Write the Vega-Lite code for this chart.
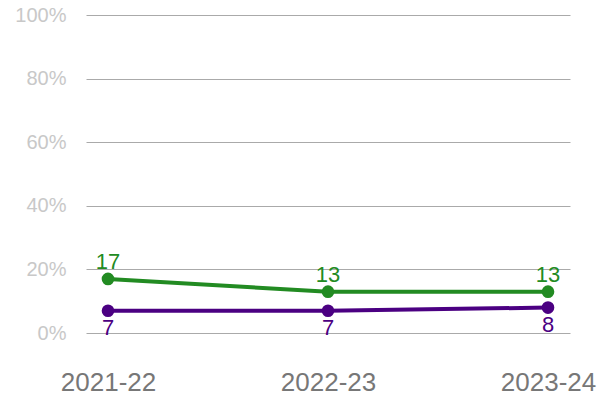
{
  "$schema": "https://vega.github.io/schema/vega-lite/v6.json",
  "autosize": "none",
  "width": 484,
  "height": 318,
  "padding": {"left": 86, "top": 15, "right": 44, "bottom": 67},
  "background": "white",
  "config": {"view": {"stroke": null}, "font": "Liberation Sans"},
  "data": {"values": [
    {"year": "2021-22", "series": "A", "value": 17},
    {"year": "2022-23", "series": "A", "value": 13},
    {"year": "2023-24", "series": "A", "value": 13},
    {"year": "2021-22", "series": "B", "value": 7},
    {"year": "2022-23", "series": "B", "value": 7},
    {"year": "2023-24", "series": "B", "value": 8}
  ]},
  "encoding": {
    "x": {"field": "year", "type": "ordinal", "scale": {"type": "point", "padding": 0.1},
      "axis": {"title": null, "domain": false, "ticks": false, "labelAngle": 0, "labelFontSize": 26, "labelColor": "#777777", "labelPadding": 36, "grid": false}},
    "y": {"field": "value", "type": "quantitative", "scale": {"domain": [0, 100]},
      "axis": {"title": null, "domain": false, "ticks": false, "values": [0, 20, 40, 60, 80, 100], "labelExpr": "datum.value + '%'", "labelFontSize": 20, "labelColor": "#c8c8c8", "labelPadding": 20, "gridColor": "#aaaaaa", "gridWidth": 1}},
    "color": {"field": "series", "type": "nominal", "scale": {"domain": ["A", "B"], "range": ["#228b22", "#4b0082"]}, "legend": null}
  },
  "layer": [
    {"mark": {"type": "line", "strokeWidth": 4}},
    {"mark": {"type": "point", "filled": true, "size": 160, "opacity": 1}},
    {"transform": [{"filter": "datum.series == 'A'"}], "mark": {"type": "text", "fontSize": 22, "dy": -17}, "encoding": {"text": {"field": "value"}}},
    {"transform": [{"filter": "datum.series == 'B'"}], "mark": {"type": "text", "fontSize": 22, "dy": 17}, "encoding": {"text": {"field": "value"}}}
  ]
}
